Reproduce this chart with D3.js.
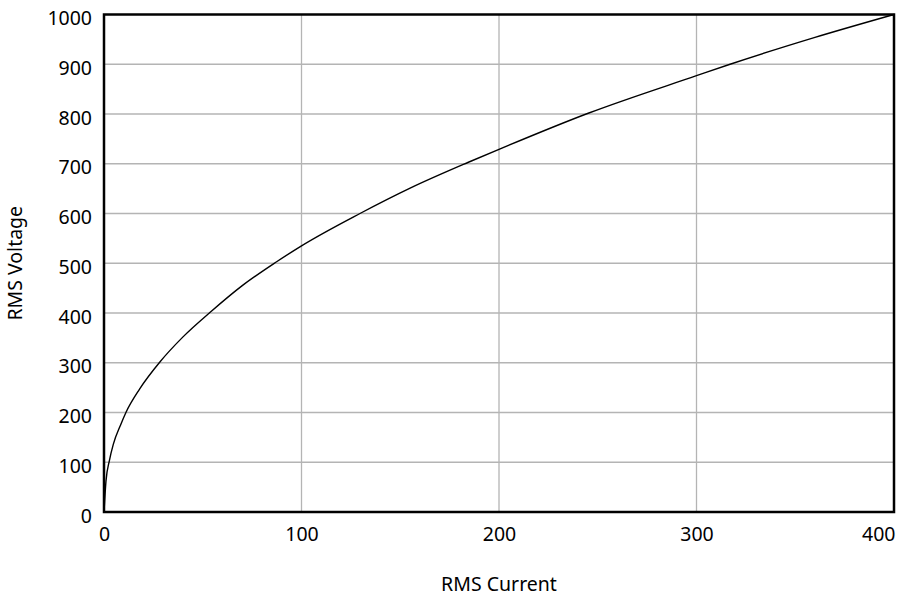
<!DOCTYPE html>
<html>
<head>
<meta charset="utf-8">
<script src="https://cdn.jsdelivr.net/npm/d3@7"></script>
<style>
  body { margin: 0; background: #fff; }
  svg { display: block; }
  text { font-family: "Noto Sans", sans-serif; fill: #000; }
</style>
</head>
<body>
<svg width="907" height="598"></svg>
<script>
// values (RMS current -> RMS voltage)
var current = [0, 1, 2.7, 4.7, 8.4, 11.1, 18, 28.4, 40, 54.5, 70, 87.4, 100, 129.6, 155, 184.5, 200, 245.5, 300, 317, 360, 400];
var voltage = [0, 62, 103, 136, 175, 200, 247, 302, 352, 404, 455, 503, 535, 600, 651, 703, 729, 802, 877, 900, 954, 1000];
var xTicks = [0, 100, 200, 300, 400];
var yTicks = [0, 100, 200, 300, 400, 500, 600, 700, 800, 900, 1000];

var margin = {top: 14.5, right: 13, bottom: 86, left: 104};
var width = 907 - margin.left - margin.right;
var height = 598 - margin.top - margin.bottom;
var fontSize = "19.5px";

var svg = d3.select("svg");
var g = svg.append("g")
    .attr("transform", "translate(" + margin.left + "," + margin.top + ")");

var x = d3.scaleLinear().domain([0, 400]).range([0, width]);
var y = d3.scaleLinear().domain([0, 1000]).range([height, 0]);

// grid
g.selectAll(".vgrid")
    .data(xTicks.slice(1, -1))
  .enter().append("line")
    .attr("x1", d => x(d)).attr("x2", d => x(d))
    .attr("y1", 0).attr("y2", height)
    .attr("stroke", "#b4b4b4").attr("stroke-width", 1.3);

g.selectAll(".hgrid")
    .data(yTicks.slice(1, -1))
  .enter().append("line")
    .attr("x1", 0).attr("x2", width)
    .attr("y1", d => y(d)).attr("y2", d => y(d))
    .attr("stroke", "#b4b4b4").attr("stroke-width", 1.3);

// curve
var data = current.map((c, i) => ({i: c, v: voltage[i]}));
var line = d3.line()
    .x(d => x(d.i))
    .y(d => y(d.v))
    .curve(d3.curveMonotoneX);

g.append("path")
    .datum(data)
    .attr("d", line)
    .attr("fill", "none")
    .attr("stroke", "#000")
    .attr("stroke-width", 1.4);

// frame
g.append("rect")
    .attr("width", width).attr("height", height)
    .attr("fill", "none").attr("stroke", "#000").attr("stroke-width", 2.5);

// tick labels
var xAxis = g.append("g")
    .attr("transform", "translate(0," + height + ")")
    .call(d3.axisBottom(x).tickValues(xTicks).tickSize(0).tickPadding(15).tickFormat(d3.format("d")));
xAxis.select(".domain").remove();
xAxis.selectAll("text").style("font-size", fontSize).style("font-family", "'Noto Sans', sans-serif");
xAxis.selectAll(".tick").filter(d => d === 400).select("text").attr("text-anchor", "end").attr("x", 1);

var yAxis = g.append("g")
    .call(d3.axisLeft(y).tickValues(yTicks).tickSize(0).tickPadding(12).tickFormat(d3.format("d")));
yAxis.select(".domain").remove();
yAxis.selectAll("text").style("font-size", fontSize).style("font-family", "'Noto Sans', sans-serif").attr("dy", "0.52em");

// axis titles
svg.append("text")
    .attr("x", margin.left + width / 2)
    .attr("y", 591)
    .attr("text-anchor", "middle")
    .style("font-size", fontSize)
    .text("RMS Current");

svg.append("text")
    .attr("transform", "translate(22," + (margin.top + height / 2) + ") rotate(-90)")
    .attr("text-anchor", "middle")
    .style("font-size", fontSize)
    .text("RMS Voltage");
</script>
</body>
</html>
